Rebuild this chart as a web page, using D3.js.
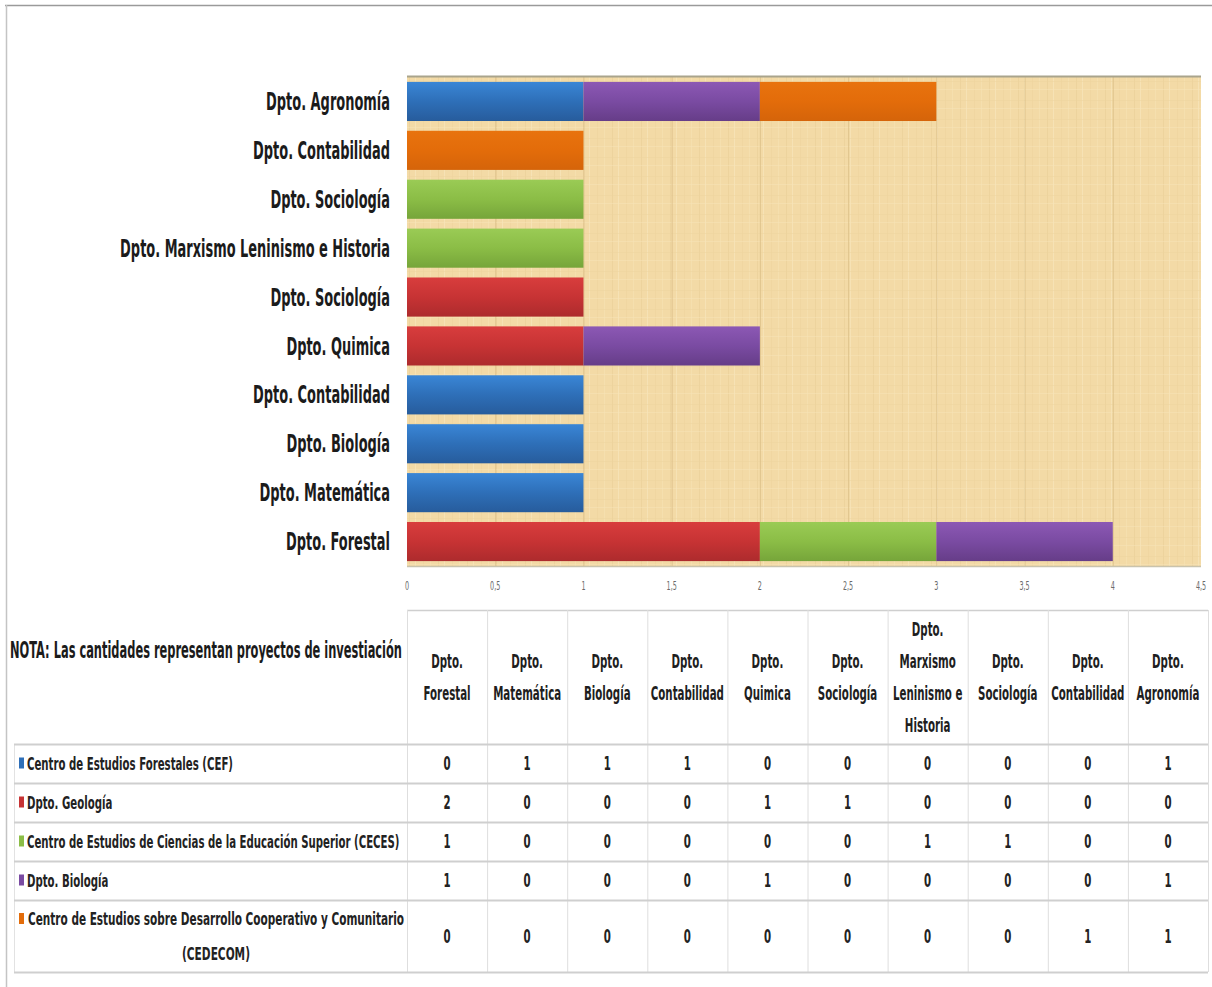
<!DOCTYPE html>
<html><head><meta charset="utf-8">
<script src="https://cdn.jsdelivr.net/npm/d3@7"></script>
<style>
body{margin:0;background:#fff;}
svg{display:block;font-family:"DejaVu Sans Condensed","Liberation Sans Narrow","Liberation Sans",sans-serif;}
</style></head>
<body>
<svg id="c" width="1212" height="987"></svg>
<script>
// ---- data ----
const categories = ["Dpto. Forestal","Dpto. Matemática","Dpto. Biología","Dpto. Contabilidad","Dpto. Quimica","Dpto. Sociología","Dpto. Marxismo Leninismo e Historia","Dpto. Sociología","Dpto. Contabilidad","Dpto. Agronomía"];
const headerLines = [["Dpto.","Forestal"],["Dpto.","Matemática"],["Dpto.","Biología"],["Dpto.","Contabilidad"],["Dpto.","Quimica"],["Dpto.","Sociología"],["Dpto.","Marxismo","Leninismo e","Historia"],["Dpto.","Sociología"],["Dpto.","Contabilidad"],["Dpto.","Agronomía"]];
const seriesNames = ["Centro de Estudios Forestales (CEF)","Dpto. Geología","Centro de Estudios de Ciencias de la Educación Superior (CECES)","Dpto. Biología","Centro de Estudios sobre Desarrollo  Cooperativo y Comunitario (CEDECOM)"];
const cefValues      = [0,1,1,1,0,0,0,0,0,1];
const geologiaValues = [2,0,0,0,1,1,0,0,0,0];
const cecesValues    = [1,0,0,0,0,0,1,1,0,0];
const biologiaValues = [1,0,0,0,1,0,0,0,0,1];
const cedecomValues  = [0,0,0,0,0,0,0,0,1,1];
const seriesValues = [cefValues, geologiaValues, cecesValues, biologiaValues, cedecomValues];
const tickValues = [0,0.5,1,1.5,2,2.5,3,3.5,4,4.5];
const noteText = "NOTA: Las cantidades representan proyectos de investiación";

// ---- styles ----
const colors = [
  ["#3a86d6","#2e6fb8","#275c9c"],
  ["#d83d3d","#c73334","#ad2b2d"],
  ["#9acb55","#8bbd46","#76a53a"],
  ["#8c58b4","#7a4ba2","#663d88"],
  ["#e8730e","#e36c0a","#d5640a"]
];
// condense text horizontally by fitting its own measured length
function condense(sel, f){
  sel.each(function(){
    const w = this.getComputedTextLength();
    d3.select(this).attr("textLength", (w*f).toFixed(1)).attr("lengthAdjust","spacingAndGlyphs");
  });
}

const svg = d3.select("#c");
const defs = svg.append("defs");
colors.forEach((c,i)=>{
  const g = defs.append("linearGradient").attr("id","g"+i).attr("x1",0).attr("x2",0).attr("y1",0).attr("y2",1);
  g.append("stop").attr("offset","0%").attr("stop-color",c[0]);
  g.append("stop").attr("offset","50%").attr("stop-color",c[1]);
  g.append("stop").attr("offset","100%").attr("stop-color",c[2]);
});
// papyrus-like texture
const pat = defs.append("pattern").attr("id","tex").attr("patternUnits","userSpaceOnUse").attr("width",29).attr("height",19);
pat.append("rect").attr("width",29).attr("height",19).attr("fill","#f3daa6");
[[3,"#e8cb92",0.45],[9,"#f8e6bc",0.7],[17,"#eacf98",0.35],[24,"#f7e2b4",0.6]].forEach(([x,c,o])=>{
  pat.append("rect").attr("x",x).attr("y",0).attr("width",1).attr("height",19).attr("fill",c).attr("opacity",o);
});
[[5,"#eed39e",0.5],[13,"#f8e4b8",0.5]].forEach(([y,c,o])=>{
  pat.append("rect").attr("x",0).attr("y",y).attr("width",29).attr("height",1).attr("fill",c).attr("opacity",o);
});

// outer frame
svg.append("line").attr("x1",5).attr("x2",1212).attr("y1",5.5).attr("y2",5.5).attr("stroke","#9a9a9a").attr("stroke-width",1.5);
svg.append("line").attr("x1",6.5).attr("x2",6.5).attr("y1",5).attr("y2",987).attr("stroke","#c4c4c4").attr("stroke-width",1.5);

// ---- scales ----
const x = d3.scaleLinear().domain([0,4.5]).range([407,1201]);
const yIdx = d3.range(categories.length).reverse();
const y = d3.scaleBand().domain(yIdx).range([77,566]).paddingInner(0.2).paddingOuter(0.1);

// plot background
svg.append("rect").attr("x",x(0)).attr("y",77).attr("width",x(4.5)-x(0)).attr("height",489).attr("fill","url(#tex)");
svg.append("g").selectAll("line").data(tickValues.slice(1,-1)).join("line")
  .attr("x1",d=>x(d)+0.5).attr("x2",d=>x(d)+0.5).attr("y1",77).attr("y2",566)
  .attr("stroke","#d9bc84").attr("stroke-width",1).attr("opacity",0.7);
svg.append("line").attr("x1",x(0)).attr("x2",x(4.5)).attr("y1",76.5).attr("y2",76.5).attr("stroke","#a9a48c").attr("stroke-width",2);
svg.append("line").attr("x1",x(0)).attr("x2",x(4.5)).attr("y1",566.5).attr("y2",566.5).attr("stroke","#c9c3ad").attr("stroke-width",1.5);

// stacked bars
const stackData = categories.map((c,i)=>{const o={i}; seriesValues.forEach((s,k)=>o["s"+k]=s[i]); return o;});
const stack = d3.stack().keys(seriesValues.map((s,k)=>"s"+k));
const stacked = stack(stackData);
svg.append("g").selectAll("g").data(stacked).join("g")
  .attr("fill",(d,k)=>"url(#g"+k+")")
  .selectAll("rect").data(d=>d.filter(p=>p[1]-p[0]>0)).join("rect")
  .attr("x",p=>x(p[0])).attr("width",p=>x(p[1])-x(p[0]))
  .attr("y",p=>y(p.data.i)).attr("height",y.bandwidth());

// category labels
svg.append("g").selectAll("text").data(d3.range(categories.length)).join("text")
  .attr("x",390).attr("y",i=>y(i)+y.bandwidth()/2).attr("dy","0.36em")
  .attr("text-anchor","end").attr("font-size",24).attr("font-weight","bold").attr("fill","#1b1b1b")
  .text(i=>categories[i]).call(condense,0.6);

// x axis labels
const fmt = d=> d3.format("~g")(d).replace(".",",");
svg.append("g").selectAll("text").data(tickValues).join("text")
  .attr("x",d=>x(d)).attr("y",590).attr("text-anchor","middle")
  .attr("font-size",13).attr("fill","#6a6a6a").text(fmt).call(condense,0.55);

// ---- table ----
const col = d3.scaleBand().domain(d3.range(categories.length)).range([407,1208]);
const rowEdges = [744,783,822,861,900,972];
const lineC = "#cfcfcf";
const tg = svg.append("g");
tg.append("line").attr("x1",407).attr("x2",1208).attr("y1",610.5).attr("y2",610.5).attr("stroke",lineC).attr("stroke-width",1.5);
tg.selectAll("line.v").data(d3.range(categories.length+1)).join("line").attr("class","v")
  .attr("x1",i=>i<categories.length?col(i)+0.5:1208.5).attr("x2",i=>i<categories.length?col(i)+0.5:1208.5)
  .attr("y1",610).attr("y2",972).attr("stroke","#dedede").attr("stroke-width",1);
tg.append("line").attr("x1",14.5).attr("x2",14.5).attr("y1",744).attr("y2",972).attr("stroke","#e2e2e2");
tg.selectAll("line.h").data(rowEdges).join("line").attr("class","h")
  .attr("x1",14).attr("x2",1208).attr("y1",d=>d+0.5).attr("y2",d=>d+0.5).attr("stroke",lineC).attr("stroke-width",2);

// header text: one text element per line
headerLines.forEach((lines,i)=>{
  const cx = col(i)+col.bandwidth()/2;
  const lh = 32, mid = 677;
  const y0 = mid - (lines.length-1)*lh/2;
  tg.selectAll(null).data(lines).join("text")
    .attr("x",cx).attr("y",(d,j)=>y0+j*lh).attr("dy","0.36em")
    .attr("text-anchor","middle").attr("font-size",19).attr("font-weight","bold").attr("fill","#1e1e1e")
    .text(d=>d).call(condense,0.6);
});

// note
tg.append("text").attr("x",10).attr("y",650).attr("dy","0.36em").attr("font-size",23).attr("font-weight","bold")
  .attr("fill","#1b1b1b").attr("textLength",392).attr("lengthAdjust","spacingAndGlyphs").text(noteText);

// legend rows
seriesNames.forEach((name,k)=>{
  const top = rowEdges[k], bot = rowEdges[k+1], mid=(top+bot)/2;
  const sy = k===4 ? mid-17 : mid;
  tg.append("rect").attr("x",19).attr("y",sy-6).attr("width",5).attr("height",11).attr("fill",colors[k][1]);
  if(k===4){
    tg.append("text").attr("x",216).attr("y",mid-17).attr("dy","0.36em").attr("font-size",17).attr("font-weight","bold")
      .attr("fill","#222").attr("text-anchor","middle")
      .text("Centro de Estudios sobre Desarrollo  Cooperativo y Comunitario")
      .attr("textLength",376).attr("lengthAdjust","spacingAndGlyphs");
    tg.append("text").attr("x",216).attr("y",mid+18).attr("dy","0.36em").attr("font-size",17).attr("font-weight","bold")
      .attr("fill","#222").attr("text-anchor","middle").text("(CEDECOM)")
      .attr("textLength",68).attr("lengthAdjust","spacingAndGlyphs");
  } else {
    tg.append("text").attr("x",27).attr("y",mid).attr("dy","0.36em").attr("font-size",17).attr("font-weight","bold")
      .attr("fill","#222").text(name).call(condense,0.665);
  }
  // values
  tg.selectAll(null).data(seriesValues[k]).join("text")
    .attr("x",(d,i)=>col(i)+col.bandwidth()/2).attr("y",mid).attr("dy","0.36em")
    .attr("text-anchor","middle").attr("font-size",19).attr("font-weight","bold").attr("fill","#222")
    .text(d=>d).call(condense,0.6);
});
</script>
</body></html>
